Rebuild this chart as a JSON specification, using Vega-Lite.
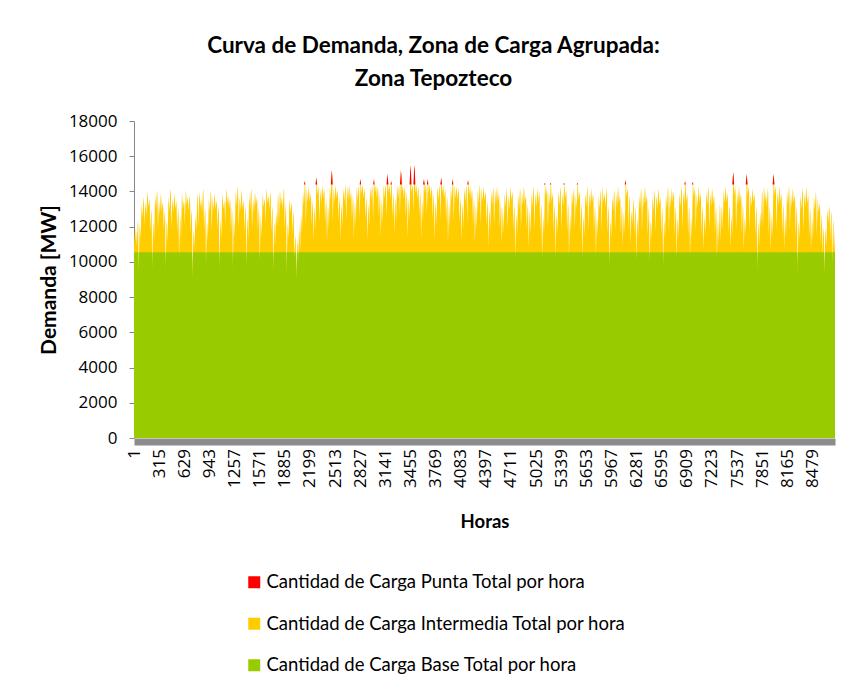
{
  "$schema": "https://vega.github.io/schema/vega-lite/v6.json",
  "width": 701,
  "height": 317,
  "padding": {"left": 38, "top": 34, "right": 5, "bottom": 5},
  "background": "#ffffff",
  "title": {
    "text": ["Curva de Demanda, Zona de Carga Agrupada:", "Zona Tepozteco"],
    "font": "Lato", "fontSize": 22.5, "fontWeight": "bold", "color": "#000000",
    "lineHeight": 33, "anchor": "middle", "offset": 22, "dx": -51
  },
  "config": {
    "view": {"stroke": null},
    "font": "Lato",
    "axis": {"labelColor": "#000000", "titleColor": "#000000", "grid": false, "labelFont": "Open Sans", "titleFont": "Lato", "labelOverlap": false},
    "legend": {"labelFont": "Lato"}
  },
  "layer": [
    {
      "data": {
        "values": "h,t\n1,11800\n12,11000\n24,11900\n30,11600\n36,10900\n48,12400\n54,12000\n60,9300\n72,12200\n78,11900\n84,11300\n96,13300\n102,13000\n108,12500\n120,13700\n126,13400\n132,12100\n144,13400\n150,13100\n156,12600\n168,14000\n174,13700\n180,13100\n192,13600\n198,13300\n204,11700\n216,13000\n222,12600\n228,9500\n240,12300\n246,12000\n252,11200\n264,13800\n270,13500\n276,13000\n288,14100\n294,13800\n300,11800\n312,13500\n318,13200\n324,12700\n336,13900\n342,13600\n348,12900\n360,13400\n366,13100\n372,11800\n384,12900\n390,12500\n396,9500\n408,12400\n414,12100\n420,11100\n432,13700\n438,13400\n444,12900\n456,14200\n462,13900\n468,11900\n480,13600\n486,13300\n492,12800\n504,13900\n510,13600\n516,13000\n528,13500\n534,13200\n540,11700\n552,13100\n558,12700\n564,10200\n576,12600\n582,12300\n588,11300\n600,13900\n606,13600\n612,13000\n624,13500\n630,13200\n636,12100\n648,14100\n654,13800\n660,13200\n672,13700\n678,13400\n684,12900\n696,13800\n702,13500\n708,11600\n720,13000\n726,12600\n732,9000\n744,11800\n750,11500\n756,10800\n768,12600\n774,12300\n780,11800\n792,13900\n798,13600\n804,12000\n816,14000\n822,13700\n828,13100\n840,13600\n846,13300\n852,12800\n864,14200\n870,13900\n876,11800\n888,13100\n894,12700\n900,9600\n912,12300\n918,12000\n924,11200\n936,13600\n942,13300\n948,12800\n960,14100\n966,13800\n972,11800\n984,13700\n990,13400\n996,12900\n1008,13900\n1014,13600\n1020,13000\n1032,13500\n1038,13200\n1044,11900\n1056,13200\n1062,12800\n1068,9500\n1080,12400\n1086,12100\n1092,11300\n1104,13900\n1110,13600\n1116,13000\n1128,13500\n1134,13200\n1140,12100\n1152,14200\n1158,13900\n1164,13300\n1176,13800\n1182,13500\n1188,13000\n1200,13600\n1206,13300\n1212,11600\n1224,13100\n1230,12700\n1236,9600\n1248,12500\n1254,12200\n1260,11400\n1272,14000\n1278,13700\n1284,13200\n1296,14300\n1302,14000\n1308,11900\n1320,13700\n1326,13400\n1332,12900\n1344,14100\n1350,13800\n1356,13000\n1368,13500\n1374,13200\n1380,11700\n1392,13200\n1398,12800\n1404,9700\n1416,12500\n1422,12200\n1428,11300\n1440,13800\n1446,13500\n1452,13000\n1464,14200\n1470,13900\n1476,11800\n1488,13600\n1494,13300\n1500,12800\n1512,14000\n1518,13700\n1524,13200\n1536,13700\n1542,13400\n1548,11800\n1560,13100\n1566,12700\n1572,9900\n1584,12600\n1590,12300\n1596,11400\n1608,13900\n1614,13600\n1620,13100\n1632,13600\n1638,13300\n1644,12200\n1656,14200\n1662,13900\n1668,13300\n1680,13800\n1686,13500\n1692,13000\n1704,14000\n1710,13700\n1716,11700\n1728,13200\n1734,12800\n1740,9400\n1752,12300\n1758,12000\n1764,10900\n1776,12800\n1782,12500\n1788,12000\n1800,13900\n1806,13600\n1812,12100\n1824,14100\n1830,13800\n1836,13200\n1848,13700\n1854,13400\n1860,12900\n1872,14200\n1878,13900\n1884,11800\n1896,13300\n1902,12900\n1908,9300\n1920,12200\n1926,11900\n1932,11300\n1944,13600\n1950,13300\n1956,12800\n1968,13400\n1974,13100\n1980,11600\n1992,12900\n1998,12600\n2004,10200\n2016,11500\n2022,11200\n2028,8900\n2040,11300\n2046,11000\n2052,10000\n2064,12000\n2070,11600\n2076,10600\n2088,12700\n2094,12400\n2100,11600\n2112,14000\n2118,13700\n2124,13200\n2136,14600\n2142,14300\n2148,12100\n2160,14200\n2166,13900\n2172,13400\n2184,14300\n2190,14000\n2196,13400\n2208,13900\n2214,13600\n2220,12100\n2232,13500\n2238,13100\n2244,11200\n2256,13100\n2262,12800\n2268,11800\n2280,14800\n2286,14500\n2292,13800\n2304,14300\n2310,14000\n2316,12200\n2328,14100\n2334,13800\n2340,13300\n2352,14400\n2358,14100\n2364,13600\n2376,14200\n2382,13900\n2388,12200\n2400,13600\n2406,13200\n2412,11100\n2424,13200\n2430,12900\n2436,11900\n2448,14300\n2454,14000\n2460,13500\n2472,15200\n2478,14900\n2484,12300\n2496,14200\n2502,13900\n2508,13400\n2520,14400\n2526,14100\n2532,13600\n2544,14100\n2550,13800\n2556,12300\n2568,13700\n2574,13300\n2580,11200\n2592,13300\n2598,13000\n2604,12000\n2616,14200\n2622,13900\n2628,13400\n2640,14400\n2646,14100\n2652,12300\n2664,14300\n2670,14000\n2676,13500\n2688,14400\n2694,14100\n2700,13500\n2712,14000\n2718,13700\n2724,12400\n2736,13800\n2742,13400\n2748,11300\n2760,13400\n2766,13100\n2772,12100\n2784,14300\n2790,14000\n2796,13500\n2808,14400\n2814,14100\n2820,12400\n2832,14700\n2838,14400\n2844,13900\n2856,14400\n2862,14100\n2868,13600\n2880,14200\n2886,13900\n2892,12400\n2904,13700\n2910,13300\n2916,11200\n2928,13300\n2934,13000\n2940,12000\n2952,14300\n2958,14000\n2964,13500\n2976,14400\n2982,14100\n2988,12400\n3000,14700\n3006,14400\n3012,13900\n3024,14400\n3030,14100\n3036,13600\n3048,14300\n3054,14000\n3060,12500\n3072,13900\n3078,13500\n3084,11400\n3096,13500\n3102,13200\n3108,12200\n3120,14400\n3126,14100\n3132,13600\n3144,14400\n3150,14100\n3156,12500\n3168,15000\n3174,14700\n3180,13900\n3192,14400\n3198,14100\n3204,13600\n3216,14600\n3222,14300\n3228,12500\n3240,13900\n3246,13500\n3252,11500\n3264,13600\n3270,13300\n3276,12300\n3288,14400\n3294,14100\n3300,13600\n3312,14400\n3318,14100\n3324,12700\n3336,15200\n3342,14900\n3348,13900\n3360,14400\n3366,14100\n3372,13600\n3384,14300\n3390,14000\n3396,12600\n3408,14000\n3414,13600\n3420,11400\n3432,13600\n3438,13300\n3444,12400\n3456,15500\n3462,15100\n3468,13900\n3480,14400\n3486,14100\n3492,12800\n3504,15500\n3510,15200\n3516,13900\n3528,14400\n3534,14100\n3540,13600\n3552,14300\n3558,14000\n3564,12600\n3576,14000\n3582,13600\n3588,11300\n3600,13500\n3606,13200\n3612,12300\n3624,14700\n3630,14500\n3636,13900\n3648,14400\n3654,14100\n3660,12700\n3672,14700\n3678,14400\n3684,13900\n3696,14400\n3702,14100\n3708,13600\n3720,14300\n3726,14000\n3732,12400\n3744,13900\n3750,13500\n3756,11200\n3768,13400\n3774,13100\n3780,12100\n3792,14300\n3798,14000\n3804,13500\n3816,14400\n3822,14100\n3828,12400\n3840,14800\n3846,14500\n3852,13900\n3864,14400\n3870,14100\n3876,13600\n3888,14200\n3894,13900\n3900,12300\n3912,13800\n3918,13400\n3924,11100\n3936,13300\n3942,13000\n3948,12000\n3960,14300\n3966,14000\n3972,13500\n3984,14700\n3990,14400\n3996,12300\n4008,14400\n4014,14100\n4020,13600\n4032,14300\n4038,14000\n4044,13500\n4056,14200\n4062,13900\n4068,12200\n4080,13700\n4086,13300\n4092,11200\n4104,13300\n4110,13000\n4116,11900\n4128,14200\n4134,13900\n4140,13400\n4152,14400\n4158,14100\n4164,12200\n4176,14650\n4182,14350\n4188,13800\n4200,14300\n4206,14000\n4212,13500\n4224,14100\n4230,13800\n4236,12100\n4248,13600\n4254,13200\n4260,11000\n4272,13200\n4278,12900\n4284,11900\n4296,14100\n4302,13800\n4308,13300\n4320,14400\n4326,14100\n4332,12100\n4344,14200\n4350,13900\n4356,13400\n4368,14300\n4374,14000\n4380,13500\n4392,14000\n4398,13700\n4404,12000\n4416,13500\n4422,13100\n4428,10900\n4440,13000\n4446,12700\n4452,11800\n4464,14000\n4470,13700\n4476,13200\n4488,14300\n4494,14000\n4500,12000\n4512,14100\n4518,13800\n4524,13300\n4536,14300\n4542,14000\n4548,13400\n4560,13900\n4566,13600\n4572,11900\n4584,13400\n4590,13000\n4596,11000\n4608,13000\n4614,12700\n4620,11700\n4632,13900\n4638,13600\n4644,13100\n4656,14200\n4662,13900\n4668,11900\n4680,13800\n4686,13500\n4692,13000\n4704,14300\n4710,14000\n4716,13500\n4728,14000\n4734,13700\n4740,11800\n4752,13300\n4758,12900\n4764,10200\n4776,12700\n4782,12400\n4788,11500\n4800,13800\n4806,13500\n4812,13000\n4824,14200\n4830,13900\n4836,11900\n4848,14000\n4854,13700\n4860,13200\n4872,14300\n4878,14000\n4884,13300\n4896,13800\n4902,13500\n4908,11800\n4920,13300\n4926,12900\n4932,10800\n4944,12900\n4950,12600\n4956,11600\n4968,13900\n4974,13600\n4980,13100\n4992,14300\n4998,14000\n5004,11800\n5016,13900\n5022,13600\n5028,13100\n5040,14200\n5046,13900\n5052,13400\n5064,14000\n5070,13700\n5076,11700\n5088,13300\n5094,12900\n5100,10100\n5112,12600\n5118,12300\n5124,11500\n5136,14500\n5142,14200\n5148,13700\n5160,14200\n5166,13900\n5172,11900\n5184,14000\n5190,13700\n5196,13200\n5208,14500\n5214,14200\n5220,13400\n5232,13900\n5238,13600\n5244,11700\n5256,13300\n5262,12900\n5268,10200\n5280,12700\n5286,12400\n5292,11600\n5304,14000\n5310,13700\n5316,13200\n5328,14300\n5334,14000\n5340,11900\n5352,13900\n5358,13600\n5364,13100\n5376,14500\n5382,14200\n5388,13600\n5400,14100\n5406,13800\n5412,11700\n5424,13400\n5430,13000\n5436,10300\n5448,12700\n5454,12400\n5460,11600\n5472,14000\n5478,13700\n5484,13200\n5496,14200\n5502,13900\n5508,11800\n5520,13800\n5526,13500\n5532,13000\n5544,14500\n5550,14200\n5556,13500\n5568,14000\n5574,13700\n5580,11600\n5592,13300\n5598,12900\n5604,10200\n5616,12600\n5622,12300\n5628,11500\n5640,13900\n5646,13600\n5652,13100\n5664,14300\n5670,14000\n5676,11800\n5688,13900\n5694,13600\n5700,13100\n5712,14200\n5718,13900\n5724,13400\n5736,13900\n5742,13600\n5748,11700\n5760,13200\n5766,12800\n5772,10300\n5784,12600\n5790,12300\n5796,11500\n5808,13800\n5814,13500\n5820,13000\n5832,14100\n5838,13800\n5844,11800\n5856,14300\n5862,14000\n5868,13400\n5880,13900\n5886,13600\n5892,13100\n5904,14200\n5910,13900\n5916,11600\n5928,13200\n5934,12800\n5940,9700\n5952,12400\n5958,12100\n5964,11300\n5976,13700\n5982,13400\n5988,12900\n6000,14100\n6006,13800\n6012,11700\n6024,13900\n6030,13600\n6036,13100\n6048,14300\n6054,14000\n6060,13300\n6072,13800\n6078,13500\n6084,11600\n6096,13200\n6102,12800\n6108,10900\n6120,12800\n6126,12500\n6132,11600\n6144,14650\n6150,14350\n6156,13700\n6168,14200\n6174,13900\n6180,11800\n6192,13800\n6198,13500\n6204,11000\n6216,12900\n6222,12600\n6228,12100\n6240,13600\n6246,13300\n6252,11600\n6264,13200\n6270,12800\n6276,10000\n6288,12500\n6294,12200\n6300,11400\n6312,13800\n6318,13500\n6324,13000\n6336,14200\n6342,13900\n6348,11700\n6360,13900\n6366,13600\n6372,13100\n6384,14300\n6390,14000\n6396,13300\n6408,13800\n6414,13500\n6420,11500\n6432,13100\n6438,12700\n6444,9900\n6456,12400\n6462,12100\n6468,11300\n6480,13700\n6486,13400\n6492,12900\n6504,14100\n6510,13800\n6516,11700\n6528,13800\n6534,13500\n6540,13000\n6552,14200\n6558,13900\n6564,13200\n6576,13700\n6582,13400\n6588,11500\n6600,13100\n6606,12700\n6612,9700\n6624,12400\n6630,12100\n6636,11300\n6648,13800\n6654,13500\n6660,13000\n6672,14300\n6678,14000\n6684,11700\n6696,13900\n6702,13600\n6708,13100\n6720,14200\n6726,13900\n6732,13400\n6744,14000\n6750,13700\n6756,11500\n6768,13200\n6774,12800\n6780,10100\n6792,12500\n6798,12200\n6804,11400\n6816,13900\n6822,13600\n6828,13100\n6840,14300\n6846,14000\n6852,11800\n6864,14000\n6870,13700\n6876,13200\n6888,14600\n6894,14300\n6900,13400\n6912,13900\n6918,13600\n6924,11500\n6936,13200\n6942,12800\n6948,10200\n6960,12500\n6966,12200\n6972,11400\n6984,14550\n6990,14250\n6996,13700\n7008,14200\n7014,13900\n7020,11700\n7032,13900\n7038,13600\n7044,13100\n7056,14300\n7062,14000\n7068,13400\n7080,13900\n7086,13600\n7092,11500\n7104,13200\n7110,12800\n7116,10700\n7128,12600\n7134,12300\n7140,11500\n7152,14000\n7158,13700\n7164,13200\n7176,14300\n7182,14000\n7188,11800\n7200,13900\n7206,13600\n7212,13100\n7224,14200\n7230,13900\n7236,13300\n7248,13800\n7254,13500\n7260,11600\n7272,13200\n7278,12800\n7284,10100\n7296,12400\n7302,12100\n7308,11000\n7320,13300\n7326,13000\n7332,11200\n7344,13200\n7350,12900\n7356,11800\n7368,14100\n7374,13800\n7380,13300\n7392,14300\n7398,14000\n7404,13400\n7416,13900\n7422,13600\n7428,11600\n7440,13300\n7446,12900\n7452,10800\n7464,12600\n7470,12300\n7476,11500\n7488,15100\n7494,14800\n7500,13800\n7512,14300\n7518,14000\n7524,11800\n7536,14000\n7542,13700\n7548,13200\n7560,14300\n7566,14000\n7572,13400\n7584,13900\n7590,13600\n7596,11600\n7608,13300\n7614,12900\n7620,10700\n7632,12600\n7638,12300\n7644,11500\n7656,15000\n7662,14700\n7668,13800\n7680,14300\n7686,14000\n7692,11800\n7704,13900\n7710,13600\n7716,13100\n7728,14200\n7734,13900\n7740,13400\n7752,13900\n7758,13600\n7764,11500\n7776,13200\n7782,12800\n7788,9500\n7800,12300\n7806,12000\n7812,10900\n7824,12800\n7830,12500\n7836,12000\n7848,14100\n7854,13800\n7860,11900\n7872,14300\n7878,14000\n7884,13400\n7896,13900\n7902,13600\n7908,13100\n7920,14200\n7926,13900\n7932,11500\n7944,13200\n7950,12800\n7956,10600\n7968,12600\n7974,12300\n7980,11400\n7992,15000\n7998,14700\n8004,13800\n8016,14300\n8022,14000\n8028,11800\n8040,14000\n8046,13700\n8052,13200\n8064,14300\n8070,14000\n8076,13400\n8088,13900\n8094,13600\n8100,11600\n8112,13300\n8118,12900\n8124,10700\n8136,12600\n8142,12300\n8148,11400\n8160,14000\n8166,13700\n8172,13200\n8184,14300\n8190,14000\n8196,11800\n8208,13900\n8214,13600\n8220,13100\n8232,14200\n8238,13900\n8244,13300\n8256,13800\n8262,13500\n8268,11500\n8280,13200\n8286,12800\n8292,9300\n8304,12300\n8310,12000\n8316,11300\n8328,13800\n8334,13500\n8340,13000\n8352,14200\n8358,13900\n8364,11700\n8376,13900\n8382,13600\n8388,13100\n8400,14300\n8406,14000\n8412,13300\n8424,13800\n8430,13500\n8436,11400\n8448,13100\n8454,12700\n8460,10600\n8472,12500\n8478,12200\n8484,11200\n8496,13700\n8502,13400\n8508,12900\n8520,14000\n8526,13700\n8532,11500\n8544,13600\n8550,13300\n8556,12800\n8568,13300\n8574,13000\n8580,11000\n8592,12700\n8598,12400\n8604,10400\n8616,12000\n8622,11600\n8628,9200\n8640,11900\n8646,11600\n8652,10900\n8664,13000\n8670,12700\n8676,12200\n8688,13200\n8694,12900\n8700,11200\n8712,12900\n8718,12600\n8724,9800\n8736,12400\n8742,12100\n8748,10600\n8760,11800",
        "format": {"type": "csv", "parse": {"h": "number", "t": "number"}}
      },
      "mark": {"type": "area", "interpolate": "linear", "opacity": 1},
      "encoding": {
        "x": {
          "field": "h", "type": "quantitative",
          "scale": {"domain": [1, 8760], "nice": false, "zero": false},
          "axis": {
            "values": [1,315,629,943,1257,1571,1885,2199,2513,2827,3141,3455,3769,4083,4397,4711,5025,5339,5653,5967,6281,6595,6909,7223,7537,7851,8165,8479],
            "tickCount": 40,
            "format": "d", "labelAngle": -90, "labelAlign": "right", "labelBaseline": "middle",
            "labelFontSize": 17, "labelPadding": 7, "ticks": false, "tickSize": 0,
            "domainColor": "#8c8c8c", "domainWidth": 7, "offset": 3.5,
            "title": "Horas", "titleFontSize": 18.5, "titleFontWeight": "bold", "titlePadding": 25,
            "labelOverlap": false, "labelFlush": false, "labelBound": false, "grid": false
          }
        },
        "y": {
          "field": "t", "type": "quantitative", "stack": null,
          "scale": {"domain": [0, 18000], "nice": false, "zero": true},
          "axis": {
            "values": [0,2000,4000,6000,8000,10000,12000,14000,16000,18000],
            "tickCount": 20,
            "format": "d", "labelFontSize": 17, "labelPadding": 12, "tickSize": 5,
            "tickColor": "#888888", "domainColor": "#888888", "labelOverlap": false,
            "title": "Demanda [MW]", "titleFontSize": 21, "titleFontWeight": "bold", "titlePadding": 9,
            "grid": false
          }
        },
        "color": {
          "datum": "Intermedia", "type": "nominal",
          "scale": {"domain": ["Punta", "Intermedia", "Base"], "range": ["#FF0000", "#FFCC00", "#99CC00"]},
          "legend": {
            "orient": "none", "legendX": 111, "legendY": 452, "title": null,
            "direction": "vertical", "symbolType": "square", "symbolSize": 144,
            "symbolStrokeWidth": 0, "symbolOpacity": 1,
            "labelFontSize": 18.5, "labelColor": "#000000", "labelLimit": 600, "labelOffset": 3,
            "rowPadding": 22.5, "padding": 0,
            "labelExpr": "'Cantidad de Carga ' + datum.label + ' Total por hora'"
          }
        }
      }
    },
    {
      "data": {
        "values": "h,i,t\n2124,14400,14400\n2136,14400,14600\n2142,14400,14400\n2268,14400,14400\n2280,14400,14800\n2286,14400,14500\n2292,14400,14400\n2460,14400,14400\n2472,14400,15200\n2478,14400,14900\n2484,14400,14400\n2820,14400,14400\n2832,14400,14700\n2838,14400,14400\n2988,14400,14400\n3000,14400,14700\n3006,14400,14400\n3156,14400,14400\n3168,14400,15000\n3174,14400,14700\n3180,14400,14400\n3204,14400,14400\n3216,14400,14600\n3222,14400,14400\n3324,14400,14400\n3336,14400,15200\n3342,14400,14900\n3348,14400,14400\n3444,14400,14400\n3456,14400,15500\n3462,14400,15100\n3468,14400,14400\n3492,14400,14400\n3504,14400,15500\n3510,14400,15200\n3516,14400,14400\n3612,14400,14400\n3624,14400,14700\n3630,14400,14500\n3636,14400,14400\n3660,14400,14400\n3672,14400,14700\n3678,14400,14400\n3828,14400,14400\n3840,14400,14800\n3846,14400,14500\n3852,14400,14400\n3972,14400,14400\n3984,14400,14700\n3990,14400,14400\n4164,14400,14400\n4176,14400,14650\n4182,14400,14400\n5124,14400,14400\n5136,14400,14500\n5142,14400,14400\n5196,14400,14400\n5208,14400,14500\n5214,14400,14400\n5364,14400,14400\n5376,14400,14500\n5382,14400,14400\n5532,14400,14400\n5544,14400,14500\n5550,14400,14400\n6132,14400,14400\n6144,14400,14650\n6150,14400,14400\n6876,14400,14400\n6888,14400,14600\n6894,14400,14400\n6972,14400,14400\n6984,14400,14550\n6990,14400,14400\n7476,14400,14400\n7488,14400,15100\n7494,14400,14800\n7500,14400,14400\n7644,14400,14400\n7656,14400,15000\n7662,14400,14700\n7668,14400,14400\n7980,14400,14400\n7992,14400,15000\n7998,14400,14700\n8004,14400,14400",
        "format": {"type": "csv", "parse": {"h": "number", "i": "number", "t": "number"}}
      },
      "mark": {"type": "area", "interpolate": "linear", "opacity": 1},
      "encoding": {
        "x": {"field": "h", "type": "quantitative"},
        "y": {"field": "t", "type": "quantitative", "stack": null},
        "y2": {"field": "i"},
        "color": {"datum": "Punta", "type": "nominal"}
      }
    },
    {
      "data": {
        "values": "h,b\n1,10550\n57,10550\n60,9300\n65,10550\n226,10550\n228,9500\n232,10550\n394,10550\n396,9500\n400,10550\n563,10550\n564,10200\n566,10550\n729,10550\n732,9000\n739,10550\n898,10550\n900,9600\n904,10550\n1066,10550\n1068,9500\n1072,10550\n1234,10550\n1236,9600\n1240,10550\n1402,10550\n1404,9700\n1408,10550\n1571,10550\n1572,9900\n1575,10550\n1738,10550\n1740,9400\n1745,10550\n1906,10550\n1908,9300\n1913,10550\n2003,10550\n2004,10200\n2007,10550\n2024,10550\n2028,8900\n2036,10550\n2049,10550\n2052,10000\n2055,10550\n4763,10550\n4764,10200\n4766,10550\n5099,10550\n5100,10100\n5102,10550\n5267,10550\n5268,10200\n5270,10550\n5435,10550\n5436,10300\n5437,10550\n5603,10550\n5604,10200\n5606,10550\n5771,10550\n5772,10300\n5773,10550\n5938,10550\n5940,9700\n5944,10550\n6275,10550\n6276,10000\n6279,10550\n6443,10550\n6444,9900\n6447,10550\n6610,10550\n6612,9700\n6616,10550\n6779,10550\n6780,10100\n6782,10550\n6947,10550\n6948,10200\n6950,10550\n7283,10550\n7284,10100\n7286,10550\n7786,10550\n7788,9500\n7793,10550\n8290,10550\n8292,9300\n8297,10550\n8603,10550\n8604,10400\n8605,10550\n8625,10550\n8628,9200\n8634,10550\n8722,10550\n8724,9800\n8727,10550\n8760,10550",
        "format": {"type": "csv", "parse": {"h": "number", "b": "number"}}
      },
      "mark": {"type": "area", "interpolate": "linear", "opacity": 1},
      "encoding": {
        "x": {"field": "h", "type": "quantitative"},
        "y": {"field": "b", "type": "quantitative", "stack": null},
        "color": {"datum": "Base", "type": "nominal"}
      }
    }
  ]
}
